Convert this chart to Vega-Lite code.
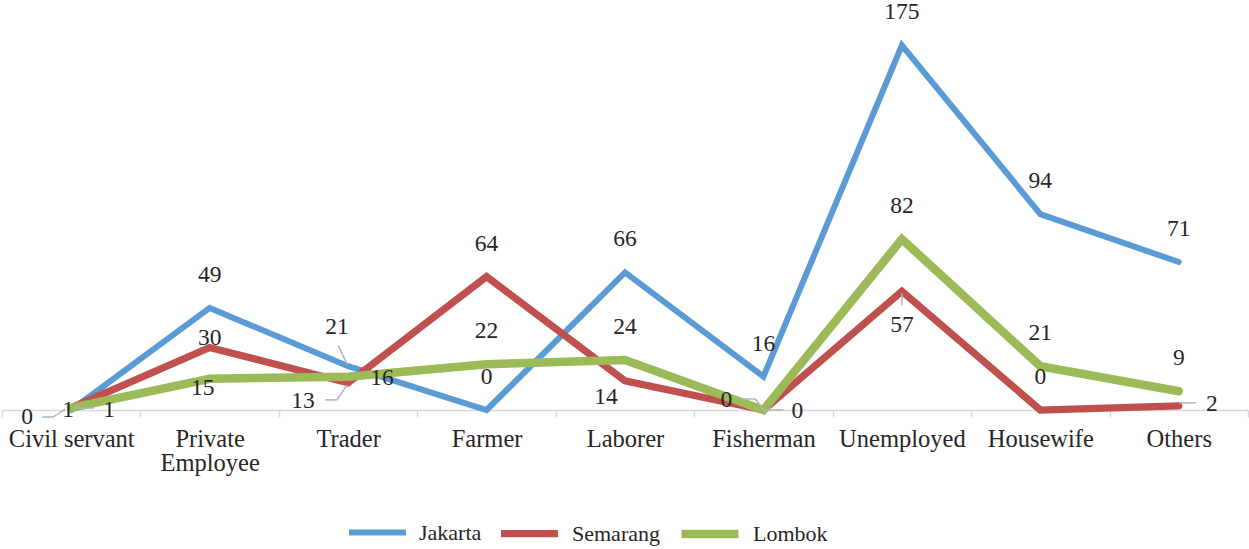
{
  "$schema": "https://vega.github.io/schema/vega-lite/v6.json",
  "width": 1246,
  "height": 396,
  "autosize": {"type": "none"},
  "padding": {"left": 2, "top": 14, "right": 1, "bottom": 139},
  "config": {
    "view": {"stroke": null},
    "font": "Liberation Serif",
    "mark": {"font": "Liberation Serif"},
    "text": {"font": "Liberation Serif", "fontSize": 23.5, "color": "#262626", "baseline": "middle", "align": "center"},
    "rule": {"color": "#A9B4C6", "strokeWidth": 1.5},
    "legend": {"title": null, "orient": "none", "legendX": 344, "legendY": 487, "direction": "horizontal", "symbolType": "stroke", "symbolSize": 3249, "labelFont": "Liberation Serif", "labelFontSize": 22, "labelColor": "#262626", "labelOffset": 10, "columnPadding": 4, "padding": 0, "gridAlign": "none"}
  },
  "data": {
    "values": [
      {"occupation": "Civil servant", "city": "Jakarta", "count": 0},
      {"occupation": "Private Employee", "city": "Jakarta", "count": 49},
      {"occupation": "Trader", "city": "Jakarta", "count": 21},
      {"occupation": "Farmer", "city": "Jakarta", "count": 0},
      {"occupation": "Laborer", "city": "Jakarta", "count": 66},
      {"occupation": "Fisherman", "city": "Jakarta", "count": 16},
      {"occupation": "Unemployed", "city": "Jakarta", "count": 175},
      {"occupation": "Housewife", "city": "Jakarta", "count": 94},
      {"occupation": "Others", "city": "Jakarta", "count": 71},
      {"occupation": "Civil servant", "city": "Semarang", "count": 1},
      {"occupation": "Private Employee", "city": "Semarang", "count": 30},
      {"occupation": "Trader", "city": "Semarang", "count": 13},
      {"occupation": "Farmer", "city": "Semarang", "count": 64},
      {"occupation": "Laborer", "city": "Semarang", "count": 14},
      {"occupation": "Fisherman", "city": "Semarang", "count": 0},
      {"occupation": "Unemployed", "city": "Semarang", "count": 57},
      {"occupation": "Housewife", "city": "Semarang", "count": 0},
      {"occupation": "Others", "city": "Semarang", "count": 2},
      {"occupation": "Civil servant", "city": "Lombok", "count": 1},
      {"occupation": "Private Employee", "city": "Lombok", "count": 15},
      {"occupation": "Trader", "city": "Lombok", "count": 16},
      {"occupation": "Farmer", "city": "Lombok", "count": 22},
      {"occupation": "Laborer", "city": "Lombok", "count": 24},
      {"occupation": "Fisherman", "city": "Lombok", "count": 0},
      {"occupation": "Unemployed", "city": "Lombok", "count": 82},
      {"occupation": "Housewife", "city": "Lombok", "count": 21},
      {"occupation": "Others", "city": "Lombok", "count": 9}
    ]
  },
  "encoding": {
    "x": {
      "field": "occupation",
      "type": "nominal",
      "sort": ["Civil servant", "Private Employee", "Trader", "Farmer", "Laborer", "Fisherman", "Unemployed", "Housewife", "Others"],
      "bandPosition": 0.5,
      "scale": {"type": "band", "paddingInner": 0, "paddingOuter": 0},
      "axis": {
        "title": null,
        "grid": false,
        "domainColor": "#D5DAE3",
        "domainWidth": 1.5,
        "tickColor": "#D5DAE3",
        "tickWidth": 1.5,
        "tickSize": 7,
        "tickBand": "extent",
        "labelFont": "Liberation Serif",
        "labelFontSize": 24.5,
        "labelColor": "#262626",
        "labelPadding": 10,
        "labelAngle": 0,
        "labelLimit": 0,
        "labelLineHeight": 24,
        "labelExpr": "datum.label == 'Private Employee' ? ['Private', 'Employee'] : datum.label"
      }
    },
    "y": {"field": "count", "type": "quantitative", "scale": {"domain": [0, 190], "nice": false}, "axis": null}
  },
  "layer": [
    {
      "mark": {"type": "line", "strokeCap": "round", "strokeJoin": "miter"},
      "encoding": {
        "color": {
          "field": "city", "type": "nominal",
          "scale": {"domain": ["Jakarta", "Semarang", "Lombok"], "range": ["#5B9BD5", "#C0504D", "#9BBB59"]},
          "legend": {}
        },
        "strokeWidth": {
          "field": "city", "type": "nominal",
          "scale": {"domain": ["Jakarta", "Semarang", "Lombok"], "range": [6, 8.5, 9]},
          "legend": {}
        }
      }
    },
    {
      "transform": [{"filter": "(datum.city=='Jakarta' && datum.occupation!='Civil servant' && datum.occupation!='Trader') || (datum.city=='Semarang' && (datum.occupation=='Farmer' || datum.occupation=='Housewife')) || (datum.city=='Lombok' && indexof(['Farmer','Laborer','Unemployed','Housewife','Others'], datum.occupation) >= 0)"}],
      "mark": {"type": "text", "font": "Liberation Serif", "dy": -33},
      "encoding": {"text": {"field": "count"}}
    },
    {"transform": [{"filter": "datum.city=='Jakarta' && datum.occupation=='Trader'"}], "mark": {"type": "text", "font": "Liberation Serif", "dx": -11, "dy": -39}, "encoding": {"text": {"field": "count"}}},
    {"transform": [{"filter": "datum.city=='Jakarta' && datum.occupation=='Civil servant'"}], "mark": {"type": "text", "font": "Liberation Serif", "dx": -44, "dy": 7}, "encoding": {"text": {"field": "count"}}},
    {"transform": [{"filter": "datum.city=='Semarang' && datum.occupation=='Civil servant'"}], "mark": {"type": "text", "font": "Liberation Serif", "dx": -3, "dy": 2}, "encoding": {"text": {"field": "count"}}},
    {"transform": [{"filter": "datum.city=='Semarang' && datum.occupation=='Private Employee'"}], "mark": {"type": "text", "font": "Liberation Serif", "dx": 0, "dy": -9}, "encoding": {"text": {"field": "count"}}},
    {"transform": [{"filter": "datum.city=='Semarang' && datum.occupation=='Trader'"}], "mark": {"type": "text", "font": "Liberation Serif", "dx": -45, "dy": 18}, "encoding": {"text": {"field": "count"}}},
    {"transform": [{"filter": "datum.city=='Semarang' && datum.occupation=='Laborer'"}], "mark": {"type": "text", "font": "Liberation Serif", "dx": -19, "dy": 16}, "encoding": {"text": {"field": "count"}}},
    {"transform": [{"filter": "datum.city=='Semarang' && datum.occupation=='Fisherman'"}], "mark": {"type": "text", "font": "Liberation Serif", "dx": -37, "dy": -10}, "encoding": {"text": {"field": "count"}}},
    {"transform": [{"filter": "datum.city=='Semarang' && datum.occupation=='Unemployed'"}], "mark": {"type": "text", "font": "Liberation Serif", "dx": 0, "dy": 34}, "encoding": {"text": {"field": "count"}}},
    {"transform": [{"filter": "datum.city=='Semarang' && datum.occupation=='Others'"}], "mark": {"type": "text", "font": "Liberation Serif", "dx": 33, "dy": -2}, "encoding": {"text": {"field": "count"}}},
    {"transform": [{"filter": "datum.city=='Lombok' && datum.occupation=='Civil servant'"}], "mark": {"type": "text", "font": "Liberation Serif", "dx": 38, "dy": 2}, "encoding": {"text": {"field": "count"}}},
    {"transform": [{"filter": "datum.city=='Lombok' && datum.occupation=='Private Employee'"}], "mark": {"type": "text", "font": "Liberation Serif", "dx": -7, "dy": 9}, "encoding": {"text": {"field": "count"}}},
    {"transform": [{"filter": "datum.city=='Lombok' && (datum.occupation=='Trader' || datum.occupation=='Fisherman')"}], "mark": {"type": "text", "font": "Liberation Serif", "dx": 34, "dy": 1}, "encoding": {"text": {"field": "count"}}},
    {"transform": [{"filter": "datum.city=='Jakarta' && datum.occupation=='Civil servant'"}], "mark": {"type": "rule", "xOffset": -29, "yOffset": 7, "x2Offset": -18, "y2Offset": 7}, "encoding": {"x2": {"field": "occupation", "bandPosition": 0.5}, "y2": {"field": "count"}}},
    {"transform": [{"filter": "datum.city=='Jakarta' && datum.occupation=='Civil servant'"}], "mark": {"type": "rule", "xOffset": -18, "yOffset": 7, "x2Offset": -6, "y2Offset": -1}, "encoding": {"x2": {"field": "occupation", "bandPosition": 0.5}, "y2": {"field": "count"}}},
    {"transform": [{"filter": "datum.city=='Lombok' && datum.occupation=='Civil servant'"}], "mark": {"type": "rule", "xOffset": 3, "yOffset": 0, "x2Offset": 23, "y2Offset": 0}, "encoding": {"x2": {"field": "occupation", "bandPosition": 0.5}, "y2": {"field": "count"}}},
    {"transform": [{"filter": "datum.city=='Jakarta' && datum.occupation=='Trader'"}], "mark": {"type": "rule", "xOffset": -10, "yOffset": -21, "x2Offset": -1, "y2Offset": -2}, "encoding": {"x2": {"field": "occupation", "bandPosition": 0.5}, "y2": {"field": "count"}}},
    {"transform": [{"filter": "datum.city=='Semarang' && datum.occupation=='Trader'"}], "mark": {"type": "rule", "xOffset": -23, "yOffset": 17, "x2Offset": -11, "y2Offset": 17}, "encoding": {"x2": {"field": "occupation", "bandPosition": 0.5}, "y2": {"field": "count"}}},
    {"transform": [{"filter": "datum.city=='Semarang' && datum.occupation=='Trader'"}], "mark": {"type": "rule", "xOffset": -11, "yOffset": 17, "x2Offset": -1, "y2Offset": 2}, "encoding": {"x2": {"field": "occupation", "bandPosition": 0.5}, "y2": {"field": "count"}}},
    {"transform": [{"filter": "datum.city=='Semarang' && datum.occupation=='Fisherman'"}], "mark": {"type": "rule", "xOffset": -23, "yOffset": -11, "x2Offset": -8, "y2Offset": -11}, "encoding": {"x2": {"field": "occupation", "bandPosition": 0.5}, "y2": {"field": "count"}}},
    {"transform": [{"filter": "datum.city=='Semarang' && datum.occupation=='Fisherman'"}], "mark": {"type": "rule", "xOffset": -8, "yOffset": -11, "x2Offset": 0, "y2Offset": 0}, "encoding": {"x2": {"field": "occupation", "bandPosition": 0.5}, "y2": {"field": "count"}}},
    {"transform": [{"filter": "datum.city=='Lombok' && datum.occupation=='Fisherman'"}], "mark": {"type": "rule", "xOffset": 0, "yOffset": 0, "x2Offset": 20, "y2Offset": 0}, "encoding": {"x2": {"field": "occupation", "bandPosition": 0.5}, "y2": {"field": "count"}}},
    {"transform": [{"filter": "datum.city=='Semarang' && datum.occupation=='Unemployed'"}], "mark": {"type": "rule", "xOffset": 0, "yOffset": 2, "x2Offset": 0, "y2Offset": 14}, "encoding": {"x2": {"field": "occupation", "bandPosition": 0.5}, "y2": {"field": "count"}}},
    {"transform": [{"filter": "datum.city=='Semarang' && datum.occupation=='Others'"}], "mark": {"type": "rule", "xOffset": 0, "yOffset": -3, "x2Offset": 17, "y2Offset": -3}, "encoding": {"x2": {"field": "occupation", "bandPosition": 0.5}, "y2": {"field": "count"}}}
  ]
}
